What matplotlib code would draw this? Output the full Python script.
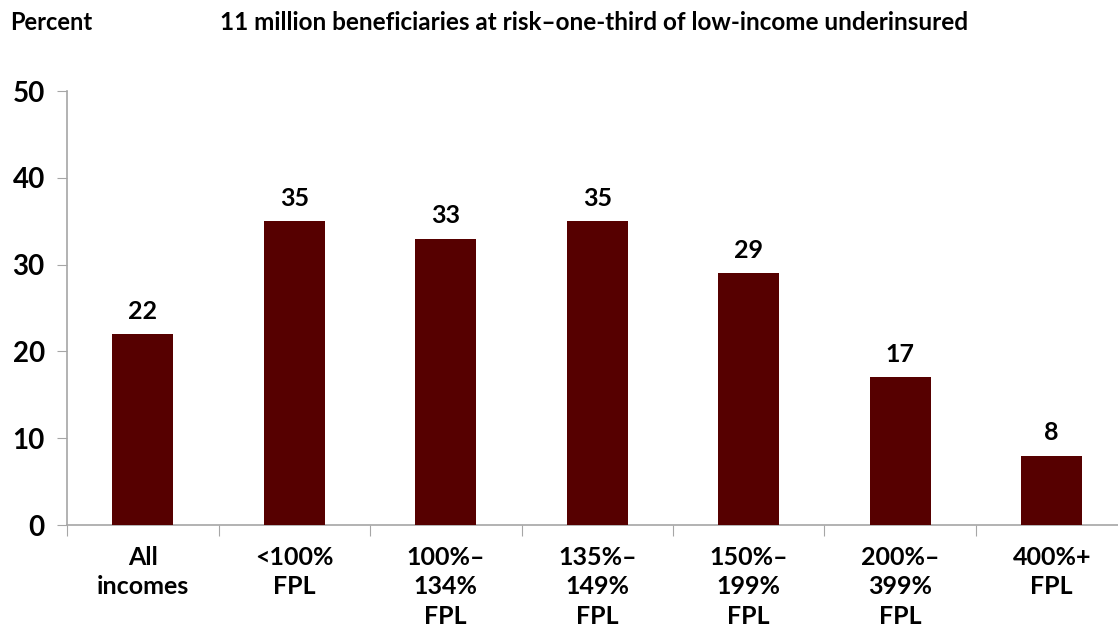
import matplotlib.pyplot as plt
from matplotlib.ticker import FixedLocator

categories = ["All\nincomes", "<100%\nFPL", "100%–\n134%\nFPL", "135%–\n149%\nFPL",
              "150%–\n199%\nFPL", "200%–\n399%\nFPL", "400%+\nFPL"]
values = [22, 35, 33, 35, 29, 17, 8]
yticks = [0, 10, 20, 30, 40, 50]

bar_color = "#560000"
axis_color = "#a6a6a6"

plt.rcParams['font.family'] = ['Lato', 'DejaVu Sans']
plt.rcParams['font.weight'] = 'bold'

fig = plt.figure(figsize=(11.18, 6.32), dpi=100)
ax = fig.add_axes([67 / 1118, 1 - 525 / 632, 1060.5 / 1118, 434 / 632])

x = list(range(len(values)))
ax.bar(x, values, width=0.4, color=bar_color, zorder=3)
for xi, v in zip(x, values):
    ax.text(xi, v + 1.3, str(v), ha='center', va='bottom', fontsize=18, fontweight='bold')

ax.set_xlim(-0.5, len(values) - 0.5)
ax.set_ylim(0, 50)
ax.set_yticks(yticks)
ax.set_yticklabels([str(t) for t in yticks], fontsize=20, fontweight='bold')

# category labels at centres, tick marks at boundaries
ax.xaxis.set_major_locator(FixedLocator([i - 0.5 for i in range(len(values) + 1)]))
ax.xaxis.set_major_formatter(plt.NullFormatter())
ax.set_xticks(x, minor=True)
ax.set_xticklabels(categories, minor=True, fontsize=18, fontweight='bold', linespacing=1.35)
ax.tick_params(axis='x', which='minor', length=0, pad=15)
ax.tick_params(axis='x', which='major', length=8, color=axis_color, direction='out')
ax.tick_params(axis='y', length=7, color=axis_color, pad=9)
for lbl in ax.get_xticklabels(minor=True):
    lbl.set_verticalalignment('top')

for side in ['top', 'right']:
    ax.spines[side].set_visible(False)
for side in ['left', 'bottom']:
    ax.spines[side].set_color(axis_color)
    ax.spines[side].set_linewidth(1.2)

fig.text(10 / 1118, 1 - 22 / 632, "Percent", fontsize=17, fontweight='bold', va='center', ha='left')
fig.text(594 / 1118, 1 - 22 / 632, "11 million beneficiaries at risk–one-third of low-income underinsured",
         fontsize=17.5, fontweight='bold', va='center', ha='center')

fig.savefig("out.png", dpi=100)
